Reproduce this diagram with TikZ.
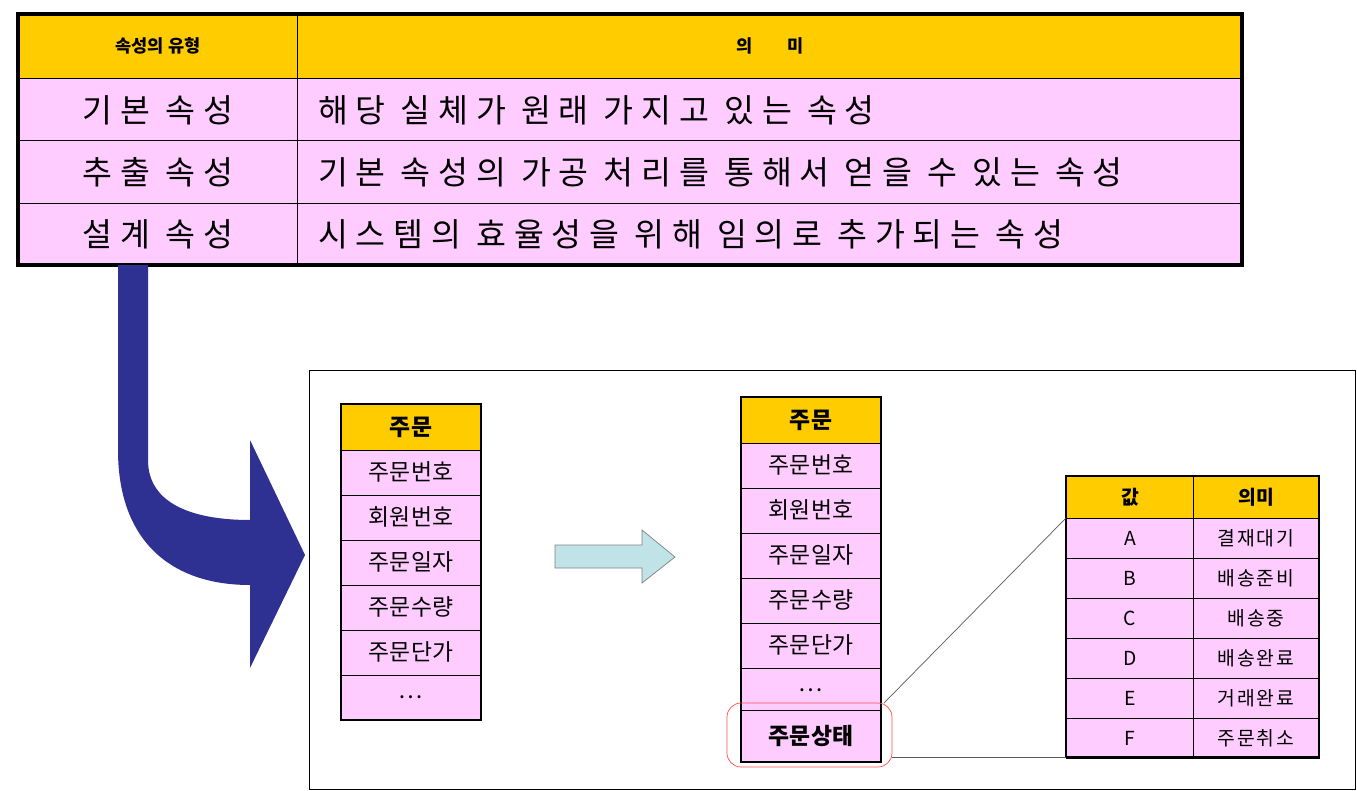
\documentclass[tikz,border=0pt]{standalone}
\usepackage{fontspec}
\setmainfont{Noto Sans CJK KR}
\begin{document}
\begin{tikzpicture}[x=0.02cm,y=-0.02cm,
  hdr/.style={fill=gold,draw=black},
  cell/.style={fill=pinkc,draw=black},
  big/.style={font=\fontsize{18.5}{20}\selectfont\addfontfeature{LetterSpace=24}},
  mid/.style={font=\fontsize{13}{15}\selectfont},
  small/.style={font=\fontsize{11}{13}\selectfont\addfontfeature{LetterSpace=10}}]
\definecolor{gold}{HTML}{FFCC00}
\definecolor{pinkc}{HTML}{FFCCFF}
\definecolor{navy}{HTML}{2E3192}
\definecolor{cyanc}{HTML}{BFE3E6}
\useasboundingbox (0,0) rectangle (1357,791);

% Top table
\fill[gold] (18,14) rectangle (1242,78);
\fill[pinkc] (18,78) rectangle (1242,265);
\foreach \y in {78,140,203} \draw (18,\y) -- (1242,\y);
\draw (297,14) -- (297,265);
\draw[line width=2.5pt] (18,14) rectangle (1242,265);
\node[big,font=\bfseries] (t0a) at (158,46) {속성의 유형};
\node[big,font=\bfseries] (t0b) at (770,46) {의\hspace{2em}미};
\node[big] (t1a) at (158,110) {기본 속성};
\node[big,anchor=west] (t1b) at (312,110) {해당 실체가 원래 가지고 있는 속성};
\node[big] (t2a) at (158,172) {추출 속성};
\node[big,anchor=west] (t2b) at (312,172) {기본 속성의 가공 처리를 통해서 얻을 수 있는 속성};
\node[big] (t3a) at (158,234) {설계 속성};
\node[big,anchor=west] (t3b) at (312,234) {시스템의 효율성을 위해 임의로 추가되는 속성};

% Big bent arrow
\fill[navy] (118,265) -- (148,265) -- (148,460)
  .. controls (148,505) and (195,520) .. (250,520) -- (250,440) -- (305,555)
  -- (250,668) -- (250,585) .. controls (170,585) and (118,540) .. (118,450) -- cycle;

% Lower frame
\draw (309,370) rectangle (1355,789);

% Left table
\draw[hdr] (341,404) rectangle (481,450);
\node[font=\bfseries\fontsize{13}{15}\selectfont] (l0) at (411,427) {주문};
\foreach \i/\t in {0/주문번호,1/회원번호,2/주문일자,3/주문수량,4/주문단가,5/{\dots}} {
  \draw[cell] (341,450+45*\i) rectangle (481,495+45*\i);
  \node[mid] (l\i) at (411,472+45*\i) {\t};
}
\draw[line width=1.5pt] (341,404) rectangle (481,720);

% Middle arrow
\filldraw[fill=cyanc,draw=gray] (555,545) -- (642,545) -- (642,530) -- (675,557)
  -- (642,583) -- (642,568) -- (555,568) -- cycle;

% Middle table
\draw[hdr] (741,397) rectangle (881,443);
\node[font=\bfseries\fontsize{13}{15}\selectfont] (m0) at (811,420) {주문};
\foreach \i/\t in {0/주문번호,1/회원번호,2/주문일자,3/주문수량,4/주문단가} {
  \draw[cell] (741,443+45*\i) rectangle (881,488+45*\i);
  \node[mid] (m\i) at (811,465+45*\i) {\t};
}
\draw[cell] (741,668) rectangle (881,710);
\node[mid] (m5) at (811,690) {\dots};
\draw[cell] (741,710) rectangle (881,762);
\node[font=\bfseries\fontsize{13}{15}\selectfont] (m6) at (811,736) {주문상태};
\draw[line width=1.5pt] (741,397) rectangle (881,762);
\draw[red!70,rounded corners=8pt] (727,703) rectangle (892,767);
\coordinate (s1) at (884,703);
\coordinate (s2) at (892,757);

% Right table
\draw[hdr] (1066,476) rectangle (1319,518);
\draw (1193,476) -- (1193,518);
\node[font=\bfseries\fontsize{11}{13}\selectfont] (r0a) at (1130,497) {값};
\node[font=\bfseries\fontsize{11}{13}\selectfont] (r0b) at (1256,497) {의미};
\foreach \i/\a/\b in {0/A/결재대기,1/B/배송준비,2/C/배송중,3/D/배송완료,4/E/거래완료,5/F/주문취소} {
  \draw[cell] (1066,518+40*\i) rectangle (1193,558+40*\i);
  \draw[cell] (1193,518+40*\i) rectangle (1319,558+40*\i);
  \node[small] (ra\i) at (1130,538+40*\i) {\a};
  \node[small] (rb\i) at (1256,538+40*\i) {\b};
}
\draw[line width=1.5pt] (1066,476) rectangle (1319,757);
\coordinate (c1) at (1066,518);
\coordinate (c2) at (1066,757);
\draw[gray!70!black] (s1) -- (c1);
\draw[gray!70!black] (s2) -- (c2);
\end{tikzpicture}
\end{document}
